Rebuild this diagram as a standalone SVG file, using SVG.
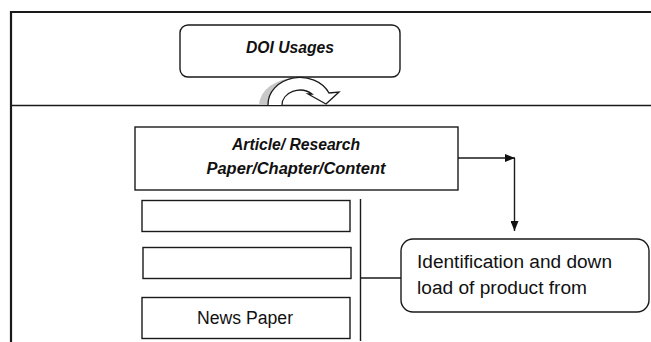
<svg xmlns="http://www.w3.org/2000/svg" width="651" height="342" viewBox="0 0 651 342">
<style>
.box{fill:#fff;stroke:#1a1a1a;stroke-width:1.4}
.ln{stroke:#1a1a1a;stroke-width:1.4;fill:none}
.bi{font-family:"Liberation Sans",Arial,sans-serif;font-weight:bold;font-style:italic;font-size:16px;fill:#111}
.rg{font-family:"Liberation Sans",Arial,sans-serif;font-size:18px;fill:#111}
</style>
<defs>
<marker id="ah" markerWidth="10" markerHeight="8" refX="10" refY="4" orient="auto" markerUnits="userSpaceOnUse">
<path d="M0,0 L10,4 L0,8 Z" fill="#111"/>
</marker>
</defs>
<rect width="651" height="342" fill="#fff"/>
<g id="frame">
<path d="M651,12 H11 V342" fill="none" stroke="#1a1a1a" stroke-width="2.2"/>
<line x1="11" y1="105.5" x2="651" y2="105.5" stroke="#1a1a1a" stroke-width="1.5"/>
</g>
<g id="doi-usages">
<rect class="box" x="180" y="25" width="220" height="52" rx="8"/>
<text class="bi" x="290" y="53" text-anchor="middle" textLength="88" lengthAdjust="spacingAndGlyphs">DOI Usages</text>
</g>
<g id="curved-arrow">
<path d="M259,105 A37,28 0 0 1 296,78 A32,27 0 0 0 268,105 Z" fill="#c8c8c8"/>
<path d="M268,105 A32,27 0 0 1 329,93 L339,92 L326,104 L308,94 L312,94 A18,15 0 0 0 282,105" fill="#fff" stroke="#1a1a1a" stroke-width="1.3"/>
</g>
<g id="article">
<rect class="box" x="135" y="127" width="323" height="63"/>
<text class="bi" x="296" y="150" text-anchor="middle" textLength="128" lengthAdjust="spacingAndGlyphs">Article/ Research</text>
<text class="bi" x="296" y="174" text-anchor="middle" textLength="179" lengthAdjust="spacingAndGlyphs">Paper/Chapter/Content</text>
</g>
<g id="box1"><rect class="box" x="142" y="200.5" width="208" height="31"/></g>
<g id="box2"><rect class="box" x="143" y="247.5" width="208" height="31"/></g>
<g id="news-paper">
<rect class="box" x="142" y="297.5" width="208" height="41"/>
<text class="rg" x="245" y="323.5" text-anchor="middle" textLength="96" lengthAdjust="spacingAndGlyphs">News Paper</text>
</g>
<g id="identification">
<rect class="box" x="401" y="239" width="248" height="73" rx="12"/>
<text class="rg" x="417" y="268" textLength="195" lengthAdjust="spacingAndGlyphs">Identification and down</text>
<text class="rg" x="417" y="294" textLength="170" lengthAdjust="spacingAndGlyphs">load of product from</text>
</g>
<g id="connectors">
<line class="ln" x1="458" y1="158" x2="515" y2="158" marker-end="url(#ah)"/>
<line class="ln" x1="514.5" y1="158" x2="514.5" y2="231" marker-end="url(#ah)"/>
<line class="ln" x1="360.5" y1="199" x2="360.5" y2="341"/>
<line class="ln" x1="360.5" y1="278" x2="401" y2="278"/>
</g>
</svg>
